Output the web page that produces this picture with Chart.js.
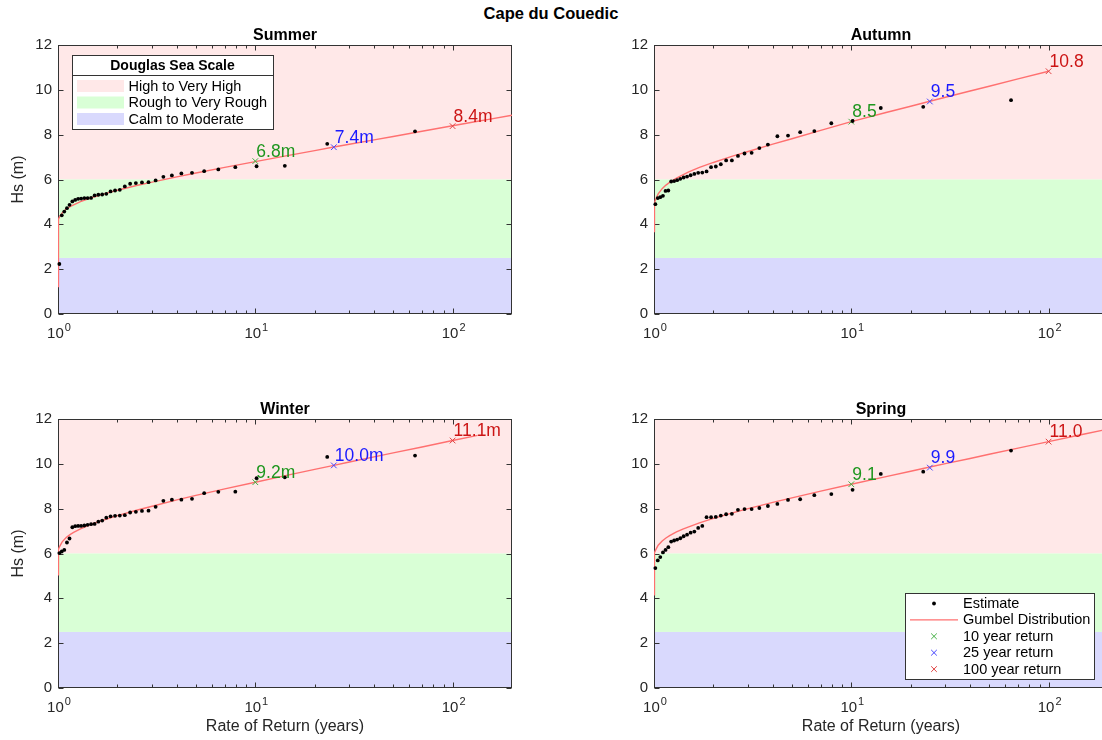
<!DOCTYPE html>
<html>
<head>
<meta charset="utf-8">
<script src="https://cdn.jsdelivr.net/npm/chart.js@4.4.0/dist/chart.umd.min.js"></script>
<style>
html,body{margin:0;padding:0;background:#fff;width:1102px;height:740px;overflow:hidden;}
#wrap{position:relative;width:1102px;height:740px;overflow:hidden;background:#fff;}
#wrap canvas{position:absolute;}
#mainTitle{position:absolute;left:0;top:4px;width:1102px;text-align:center;line-height:20px;
  font:bold 16.5px "Liberation Sans",Arial,Helvetica,sans-serif;color:#000;}
</style>
</head>
<body>
<div id="wrap">
  <div id="mainTitle">Cape du Couedic</div>
  <canvas id="c0"></canvas>
  <canvas id="c1"></canvas>
  <canvas id="c2"></canvas>
  <canvas id="c3"></canvas>
</div>
<script>
// ---------------- DATA ----------------
const returnPeriods = [1.016, 1.045, 1.076, 1.110, 1.144, 1.182, 1.222, 1.265, 1.310, 1.360,
  1.413, 1.471, 1.533, 1.601, 1.675, 1.757, 1.847, 1.946, 2.057, 2.181,
  2.321, 2.481, 2.664, 2.876, 3.125, 3.420, 3.778, 4.220, 4.778, 5.506,
  6.496, 7.921, 10.15, 14.11, 23.15, 64.50];

const summerHs = [2.23, 4.40, 4.57, 4.72, 4.87, 5.02, 5.09, 5.14, 5.15, 5.17,
  5.17, 5.18, 5.29, 5.32, 5.33, 5.36, 5.47, 5.51, 5.54, 5.69,
  5.81, 5.84, 5.87, 5.88, 5.96, 6.12, 6.18, 6.27, 6.30, 6.37,
  6.45, 6.55, 6.59, 6.61, 7.59, 8.15];
const autumnHs = [4.90, 5.17, 5.21, 5.27, 5.49, 5.51, 5.91, 5.93, 5.97, 6.03,
  6.09, 6.13, 6.19, 6.25, 6.30, 6.31, 6.36, 6.55, 6.58, 6.68,
  6.85, 6.85, 7.05, 7.16, 7.19, 7.40, 7.56, 7.93, 7.96, 8.11,
  8.16, 8.51, 8.61, 9.19, 9.24, 9.54];
const winterHs = [6.02, 6.09, 6.16, 6.49, 6.67, 7.17, 7.22, 7.23, 7.23, 7.25,
  7.28, 7.31, 7.32, 7.42, 7.47, 7.60, 7.66, 7.68, 7.69, 7.71,
  7.83, 7.86, 7.90, 7.91, 8.08, 8.35, 8.40, 8.40, 8.44, 8.69,
  8.75, 8.76, 9.36, 9.40, 10.31, 10.37];
const springHs = [5.35, 5.69, 5.84, 6.05, 6.16, 6.28, 6.53, 6.58, 6.62, 6.68,
  6.77, 6.84, 6.93, 6.98, 7.14, 7.23, 7.62, 7.62, 7.63, 7.69,
  7.75, 7.77, 7.95, 7.98, 7.98, 8.03, 8.12, 8.21, 8.39, 8.42,
  8.60, 8.65, 8.84, 9.55, 9.65, 10.59];

const gumbelT = [1, 1.001, 1.005, 1.01, 1.02, 1.05, 1.1, 1.15, 1.2, 1.3,
  1.4, 1.5, 1.7, 2, 2.5, 3, 4, 5, 7, 10,
  15, 20, 25, 30, 40, 50, 70, 100, 134, 150, 200];
const summerCurveHs = [1.23, 3.96, 4.14, 4.23, 4.34, 4.51, 4.68, 4.79, 4.87, 5.01,
  5.12, 5.21, 5.35, 5.52, 5.73, 5.88, 6.12, 6.29, 6.54, 6.80,
  7.09, 7.29, 7.45, 7.57, 7.77, 7.92, 8.15, 8.40, 8.60, 8.67, 8.87];
const autumnCurveHs = [3.68, 4.58, 4.83, 4.96, 5.12, 5.36, 5.59, 5.75, 5.87, 6.06,
  6.21, 6.34, 6.54, 6.76, 7.04, 7.25, 7.58, 7.82, 8.19, 8.58,
  8.99, 9.27, 9.49, 9.67, 9.95, 10.16, 10.49, 10.83, null, null, null];
const winterCurveHs = [5.05, 5.87, 6.08, 6.19, 6.32, 6.52, 6.71, 6.84, 6.94, 7.10,
  7.22, 7.33, 7.49, 7.69, 7.93, 8.11, 8.39, 8.59, 8.88, 9.18,
  9.52, 9.75, 9.93, 10.08, 10.31, 10.49, 10.75, 11.04, 11.27, null, null];
const springCurveHs = [4.16, 5.71, 5.92, 6.03, 6.16, 6.37, 6.56, 6.69, 6.80, 6.96,
  7.09, 7.19, 7.37, 7.57, 7.81, 8.00, 8.28, 8.48, 8.78, 9.09,
  9.43, 9.67, 9.86, 10.01, 10.24, 10.43, 10.70, 10.99, 11.23, 11.32, 11.55];

const returnT = [10, 25, 100];
const summerReturnHs = [6.82, 7.44, 8.38];
const autumnReturnHs = [8.58, 9.48, 10.83];
const winterReturnHs = [9.18, 9.93, 11.04];
const springReturnHs = [9.09, 9.83, 10.99];
const summerReturnLabels = ['6.8m', '7.4m', '8.4m'];
const autumnReturnLabels = ['8.5', '9.5', '10.8'];
const winterReturnLabels = ['9.2m', '10.0m', '11.1m'];
const springReturnLabels = ['9.1', '9.9', '11.0'];
const returnNames = ['10 year return', '25 year return', '100 year return'];

const bandNames = ['High to Very High', 'Rough to Very Rough', 'Calm to Moderate'];
const bandLower = [6, 2.5, 0];
const bandUpper = [12, 6, 2.5];

const xTickValues = [1,2,3,4,5,6,7,8,9,10,20,30,40,50,60,70,80,90,100,200];
const xTickBase = '10';
const xTickExponents = ['0','','','','','','','','','1','','','','','','','','','2',''];
const yTickValues = [0, 2, 4, 6, 8, 10, 12];

// ---------------- STYLE ----------------
const FF = '"Liberation Sans", Arial, Helvetica, sans-serif';
const AXIS = '#333333';
const TICKTEXT = '#262626';
const bandColors = ['#ffe8e8', '#d9ffd6', '#d9d9fd'];
const lineColor = '#ff7070';
const markerColors = ['#45b045', '#4646ff', '#e04444'];
const labelColors = ['#1e961e', '#1a1aff', '#cc1414'];

const M = {left: 58, top: 40, right: 30, bottom: 55};
const PW = 454, PH = 269;

const panels = [
  {id:'c0', name:'Summer', hs:summerHs, curve:summerCurveHs, ret:summerReturnHs, labels:summerReturnLabels, l:58,  t:45,  yTitle:true,  xTitle:false, legend:'douglas'},
  {id:'c1', name:'Autumn', hs:autumnHs, curve:autumnCurveHs, ret:autumnReturnHs, labels:autumnReturnLabels, l:654, t:45,  yTitle:false, xTitle:false, legend:null},
  {id:'c2', name:'Winter', hs:winterHs, curve:winterCurveHs, ret:winterReturnHs, labels:winterReturnLabels, l:58,  t:419, yTitle:true,  xTitle:true,  legend:null},
  {id:'c3', name:'Spring', hs:springHs, curve:springCurveHs, ret:springReturnHs, labels:springReturnLabels, l:654, t:419, yTitle:false, xTitle:true,  legend:'main'}
];

function drawCross(ctx, cx, cy, r, color) {
  const d = r * Math.SQRT1_2;
  ctx.strokeStyle = color; ctx.lineWidth = 1;
  ctx.beginPath();
  ctx.moveTo(cx - d, cy - d); ctx.lineTo(cx + d, cy + d);
  ctx.moveTo(cx - d, cy + d); ctx.lineTo(cx + d, cy - d);
  ctx.stroke();
}

function makePlugin(p) {
  return {
    id: 'panelDeco' + p.id,
    beforeDatasetsDraw(chart) {
      const {ctx, chartArea: a, scales: {x, y}} = chart;
      ctx.save();
      for (let i = 0; i < bandNames.length; i++) {
        const yt = y.getPixelForValue(bandUpper[i]);
        const yb = y.getPixelForValue(bandLower[i]);
        ctx.fillStyle = bandColors[i];
        ctx.fillRect(a.left, yt, a.right - a.left, yb - yt);
      }
      const L = Math.round(a.left) + 0.5, R = Math.round(a.right) - 0.5;
      const T = Math.round(a.top) + 0.5, B = Math.round(a.bottom) - 0.5;
      ctx.strokeStyle = AXIS; ctx.lineWidth = 1;
      ctx.strokeRect(L, T, R - L, B - T);
      ctx.beginPath();
      xTickValues.forEach((v, i) => {
        const px = Math.round(x.getPixelForValue(v)) + 0.5;
        if (px < a.left || px > a.right) return;
        const len = xTickExponents[i] ? 5 : 3;
        ctx.moveTo(px, B); ctx.lineTo(px, B - len);
        ctx.moveTo(px, T); ctx.lineTo(px, T + len);
      });
      yTickValues.forEach(v => {
        const py = Math.round(y.getPixelForValue(v)) + 0.5;
        ctx.moveTo(L, py); ctx.lineTo(L + 5, py);
        ctx.moveTo(R, py); ctx.lineTo(R - 5, py);
      });
      ctx.stroke();
      ctx.restore();
    },
    afterDatasetsDraw(chart) {
      const {ctx, chartArea: a, scales: {x, y}} = chart;
      ctx.save();
      // x tick labels: 10 with raised exponent
      ctx.fillStyle = TICKTEXT; ctx.textAlign = 'left'; ctx.textBaseline = 'alphabetic';
      xTickValues.forEach((v, i) => {
        const e = xTickExponents[i];
        if (!e) return;
        const px = x.getPixelForValue(v);
        ctx.font = '15px ' + FF;
        const wb = ctx.measureText(xTickBase).width;
        ctx.font = '11px ' + FF;
        const we = ctx.measureText(e).width;
        const sx = px - (wb + 1 + we) / 2 + 1;
        ctx.font = '15px ' + FF;
        ctx.fillText(xTickBase, sx, a.bottom + 24);
        ctx.font = '11px ' + FF;
        ctx.fillText(e, sx + wb + 1, a.bottom + 17);
      });
      // return value labels
      ctx.font = '17.5px ' + FF;
      ctx.textAlign = 'left'; ctx.textBaseline = 'middle';
      returnT.forEach((t, i) => {
        const px = x.getPixelForValue(t), py = y.getPixelForValue(p.ret[i]);
        ctx.fillStyle = labelColors[i];
        ctx.fillText(p.labels[i], px + 1, py - 9);
      });
      // subplot title
      ctx.font = 'bold 16px ' + FF;
      ctx.fillStyle = '#000'; ctx.textAlign = 'center'; ctx.textBaseline = 'alphabetic';
      ctx.fillText(p.name, (a.left + a.right) / 2, a.top - 5);

      if (p.legend === 'douglas') {
        const bx = Math.round(a.left + 14), by = Math.round(a.top + 10), bw = 201, bh = 74;
        ctx.fillStyle = '#fff'; ctx.fillRect(bx, by, bw, bh);
        ctx.strokeStyle = AXIS; ctx.lineWidth = 1;
        ctx.strokeRect(bx + 0.5, by + 0.5, bw, bh);
        ctx.beginPath(); ctx.moveTo(bx, by + 20.5); ctx.lineTo(bx + bw, by + 20.5); ctx.stroke();
        ctx.font = 'bold 14px ' + FF; ctx.fillStyle = '#000';
        ctx.textAlign = 'center'; ctx.textBaseline = 'middle';
        ctx.fillText('Douglas Sea Scale', bx + bw / 2, by + 11);
        ctx.font = '14.5px ' + FF; ctx.textAlign = 'left';
        bandNames.forEach((n, i) => {
          const cy = by + 31 + i * 16.5;
          ctx.fillStyle = bandColors[i];
          ctx.fillRect(bx + 5, cy - 6, 47, 12);
          ctx.fillStyle = '#000';
          ctx.fillText(n, bx + 56.5, cy + 0.5);
        });
      }
      if (p.legend === 'main') {
        const bx = Math.round(a.left + 251), by = Math.round(a.top + 174), bw = 189, bh = 86;
        ctx.fillStyle = '#fff'; ctx.fillRect(bx, by, bw, bh);
        ctx.strokeStyle = AXIS; ctx.lineWidth = 1;
        ctx.strokeRect(bx + 0.5, by + 0.5, bw, bh);
        const names = ['Estimate', 'Gumbel Distribution'].concat(returnNames);
        ctx.font = '14.5px ' + FF; ctx.textAlign = 'left'; ctx.textBaseline = 'middle';
        names.forEach((n, i) => {
          const cy = by + 10.5 + i * 16.4;
          const cx = bx + 29;
          if (i === 0) {
            ctx.fillStyle = '#000'; ctx.beginPath(); ctx.arc(cx, cy, 1.9, 0, Math.PI * 2); ctx.fill();
          } else if (i === 1) {
            ctx.strokeStyle = lineColor; ctx.lineWidth = 1.4;
            ctx.beginPath(); ctx.moveTo(bx + 5, cy); ctx.lineTo(bx + 53, cy); ctx.stroke();
          } else {
            drawCross(ctx, cx, cy, 4, markerColors[i - 2]);
          }
          ctx.fillStyle = '#000';
          ctx.fillText(n, bx + 58, cy + 0.5);
        });
      }
      ctx.restore();
    }
  };
}

Chart.defaults.font.family = FF;

panels.forEach(p => {
  const cv = document.getElementById(p.id);
  const W = PW + M.left + M.right, H = PH + M.top + M.bottom;
  cv.width = W; cv.height = H;
  cv.style.left = (p.l - M.left) + 'px';
  cv.style.top = (p.t - M.top) + 'px';
  cv.style.width = W + 'px'; cv.style.height = H + 'px';

  const datasets = [
    {
      label: 'Estimate',
      data: returnPeriods.map((t, i) => ({x: t, y: p.hs[i]})),
      pointRadius: 1.9, pointBorderWidth: 0,
      backgroundColor: '#000', borderColor: '#000',
      clip: {left: 3, right: 0, top: 0, bottom: 0},
      order: 0
    }
  ];
  returnT.forEach((t, i) => {
    datasets.push({
      label: returnNames[i],
      data: [{x: t, y: p.ret[i]}],
      pointStyle: 'crossRot', pointRadius: 4, borderWidth: 1,
      borderColor: markerColors[i], backgroundColor: markerColors[i],
      order: 1 + i
    });
  });
  datasets.push({
    label: 'Gumbel Distribution',
    data: gumbelT.map((t, i) => ({x: t, y: p.curve[i]})),
    showLine: true, spanGaps: false, pointRadius: 0, borderWidth: 1.4,
    borderColor: lineColor, backgroundColor: lineColor, tension: 0,
    order: 10
  });

  new Chart(cv, {
    type: 'scatter',
    data: {datasets},
    options: {
      responsive: false, animation: false, devicePixelRatio: 1,
      events: [],
      layout: {padding: {left: 0, top: M.top, right: M.right, bottom: 0}},
      plugins: {legend: {display: false}, tooltip: {enabled: false}, title: {display: false}},
      scales: {
        x: {
          type: 'logarithmic', min: 1, max: 200, position: 'bottom',
          afterFit(s) { s.height = M.bottom; },
          afterBuildTicks(s) { s.ticks = xTickValues.map(v => ({value: v})); },
          ticks: {display: false, autoSkip: false, maxRotation: 0, minRotation: 0},
          grid: {display: false, drawTicks: false}, border: {display: false},
          title: {display: p.xTitle, text: 'Rate of Return (years)', color: TICKTEXT,
                  font: {family: FF, size: 16}, padding: {top: 0, bottom: 7}}
        },
        y: {
          type: 'linear', min: 0, max: 12, position: 'left',
          afterFit(s) { s.width = M.left; },
          afterBuildTicks(s) { s.ticks = yTickValues.map(v => ({value: v})); },
          ticks: {padding: 6, color: TICKTEXT, font: {family: FF, size: 15}},
          grid: {display: false, drawTicks: false}, border: {display: false},
          title: {display: p.yTitle, text: 'Hs (m)', color: TICKTEXT,
                  font: {family: FF, size: 16}, padding: {top: 9, bottom: 0}}
        }
      }
    },
    plugins: [makePlugin(p)]
  });
});
</script>
</body>
</html>
